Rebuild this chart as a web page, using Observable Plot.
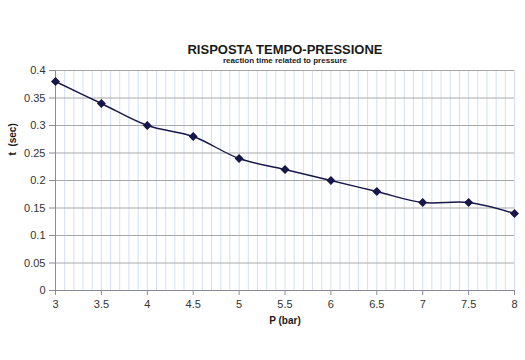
<!DOCTYPE html>
<html><head><meta charset="utf-8">
<script src="https://cdn.jsdelivr.net/npm/d3@7"></script>
<script src="https://cdn.jsdelivr.net/npm/@observablehq/plot@0.6"></script>
<style>body{margin:0;background:#fff;}svg{display:block;}</style>
</head><body><div id="chart"></div>
<script>
const pressure = [3, 3.5, 4, 4.5, 5, 5.5, 6, 6.5, 7, 7.5, 8];
const time = [0.38, 0.34, 0.30, 0.28, 0.24, 0.22, 0.20, 0.18, 0.16, 0.16, 0.14];
const xTicks = [3, 3.5, 4, 4.5, 5, 5.5, 6, 6.5, 7, 7.5, 8];
const yTicks = [0, 0.05, 0.1, 0.15, 0.2, 0.25, 0.3, 0.35, 0.4];
const title = "RISPOSTA TEMPO-PRESSIONE";
const subtitle = "reaction time related to pressure";
const xLabel = "P (bar)";
const yLabel = "t  (sec)";

const data = pressure.map((p, i) => ({p, t: time[i]}));
const font = "Liberation Sans, Arial, sans-serif";
const navy = "#17174a";

const chart = Plot.plot({
  width: 525, height: 360,
  marginTop: 70, marginBottom: 70, marginLeft: 55, marginRight: 11,
  style: {fontFamily: font, fontSize: "11px", color: "#333", background: "#fff"},
  x: {domain: [3, 8]},
  y: {domain: [0, 0.4]},
  marks: [
    Plot.gridX({ticks: 50, stroke: "#d5def4", strokeOpacity: 1}),
    Plot.gridY({ticks: yTicks, stroke: "#a9a9a9", strokeOpacity: 1}),
    Plot.ruleY([0], {stroke: "#8a8a9a"}),
    Plot.ruleX([3], {stroke: "#8a8a9a"}),
    Plot.axisX({ticks: xTicks, tickSize: 5, tickPadding: 5, label: null, stroke: "#8a8a9a", fill: "#333", tickFormat: d => String(d)}),
    Plot.axisY({ticks: yTicks, tickSize: 6, tickPadding: 4, label: null, stroke: "#8a8a9a", fill: "#333", tickFormat: d => String(+d.toFixed(2))}),
    Plot.line(data, {x: "p", y: "t", curve: "catmull-rom", stroke: navy, strokeWidth: 1.4}),
    Plot.dot(data, {x: "p", y: "t", symbol: "diamond2", r: 3.1, fill: navy, stroke: navy}),
    Plot.text([title], {frameAnchor: "top", dy: -26, text: d => d, fontSize: 13, fontWeight: "bold", fill: "#1a1a1a"}),
    Plot.text([subtitle], {frameAnchor: "top", dy: -13, text: d => d, fontSize: 8, fontWeight: "bold", fill: "#1a1a1a"}),
    Plot.text([xLabel], {frameAnchor: "bottom", dy: 33, text: d => d, fontSize: 10, fontWeight: "bold", fill: "#1a1a1a"}),
    Plot.text([yLabel], {frameAnchor: "left", dx: -43, dy: -25, rotate: -90, text: d => d, fontSize: 10, fontWeight: "bold", fill: "#1a1a1a"})
  ]
});
document.getElementById("chart").append(chart);
</script>
</body></html>
